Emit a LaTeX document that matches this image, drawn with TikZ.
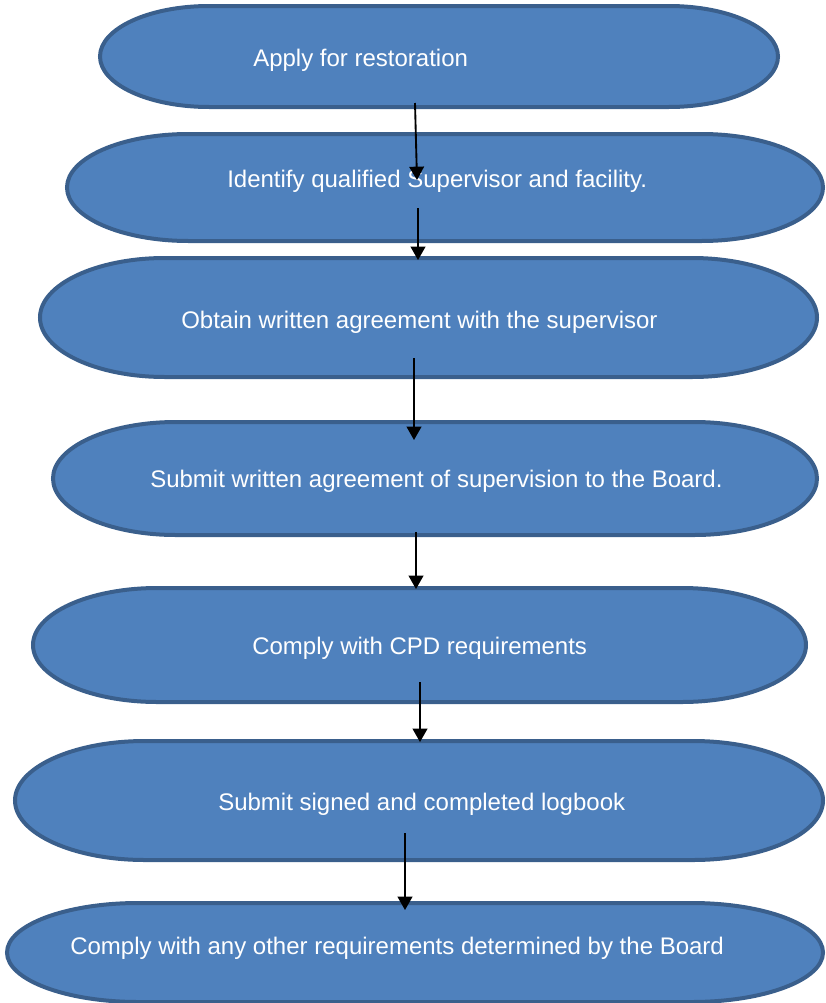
\documentclass[tikz,border=0pt]{standalone}
\usepackage{fontspec}
\setmainfont{Liberation Sans}
\usetikzlibrary{arrows.meta}
\definecolor{boxfill}{HTML}{4F81BD}
\definecolor{boxline}{HTML}{3A5F8C}
\tikzset{
  frame/.style={draw=none, inner sep=0pt, outer sep=0pt},
  term/.style={fill=boxfill, draw=boxline, line width=3pt},
  lbl/.style={text=white, font=\fontsize{18pt}{21pt}\selectfont, inner sep=0pt, anchor=west},
  flow/.style={line width=1.4pt, -{Triangle[width=11pt,length=10pt]}}
}
% #1 name, #2 left, #3 right, #4 top, #5 bottom (px, y down)
\newcommand{\termbox}[5]{%
  \pgfmathsetmacro{\tw}{#3-#2}%
  \pgfmathsetmacro{\ta}{0.161*\tw}%
  \pgfmathsetmacro{\tb}{(#5-#4)/2}%
  \path node[frame, minimum width=\tw*0.75pt, minimum height=(#5-#4)*0.75pt] (#1) at ({(#2+#3)/2},{-(#4+#5)/2}) {};
  \draw[term] ({#2+\ta},-#4) -- ({#3-\ta},-#4)
     arc[start angle=90, end angle=-90, x radius=\ta, y radius=\tb]
     -- ({#2+\ta},-#5)
     arc[start angle=270, end angle=90, x radius=\ta, y radius=\tb] -- cycle;
}
\begin{document}
\begin{tikzpicture}[x=0.75pt, y=0.75pt]
\useasboundingbox (0,0) rectangle (825,-1003);

\termbox{b1}{100}{778}{6}{107}
\node[lbl] (t1) at (253,-60) {Apply for restoration};

\termbox{b2}{67}{823}{134}{241}
\node[lbl] (t2) at (227,-181) {Identify qualified Supervisor and facility.};

\termbox{b3}{40}{817}{258}{377}
\node[lbl] (t3) at (181,-322) {Obtain written agreement with the supervisor};

\termbox{b4}{53}{817}{422}{535}
\node[lbl] (t4) at (150,-481) {Submit written agreement of supervision to the Board.};

\termbox{b5}{33}{806}{588}{702}
\node[lbl] (t5) at (252,-648) {Comply with CPD requirements};

\termbox{b6}{15}{823}{741}{860}
\node[lbl] (t6) at (218,-804) {Submit signed and completed logbook};

\termbox{b7}{7}{823}{903}{1002}
\node[lbl] (t7) at (70,-948) {Comply with any other requirements determined by the Board};

\coordinate (s1) at (415,-103); \coordinate (e1) at (417,-180);
\coordinate (s2) at (418,-208); \coordinate (e2) at (418,-260);
\coordinate (s3) at (414,-358); \coordinate (e3) at (414,-440);
\coordinate (s4) at (416,-532); \coordinate (e4) at (416,-589);
\coordinate (s5) at (420,-682); \coordinate (e5) at (420,-742);
\coordinate (s6) at (405,-833); \coordinate (e6) at (405,-910);
\foreach \i in {1,...,6} { \draw[flow] (s\i) -- (e\i); }
\end{tikzpicture}
\end{document}
